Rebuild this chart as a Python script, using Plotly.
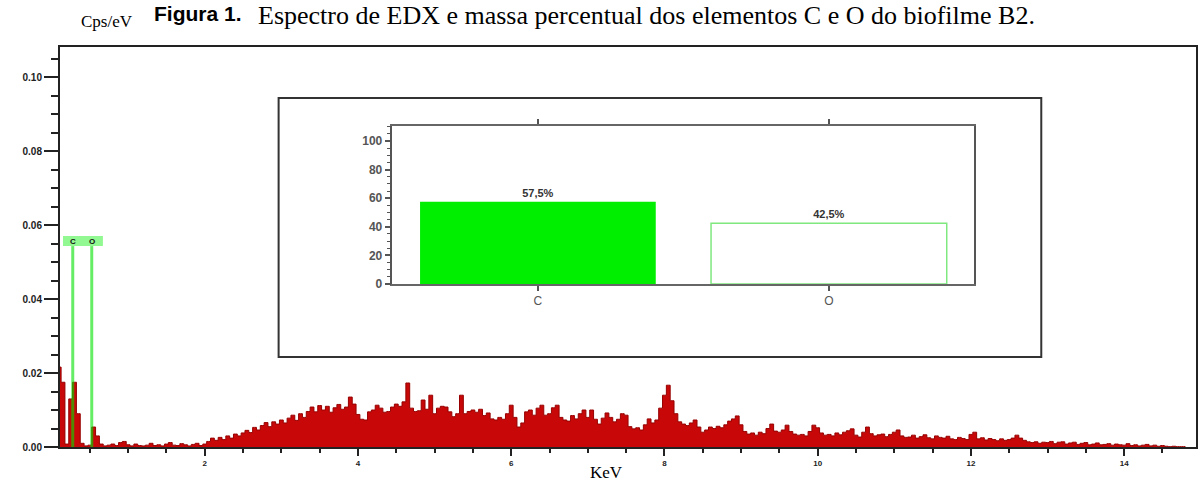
import numpy as np
import plotly.graph_objects as go

# ---------------- data ----------------
# EDX spectrum, Cps/eV in thousandths, channels every 0.05 keV starting at 0.10 keV
cps_milli = [
    # 0.10 - 0.95
    21.6, 17.5, 0.8, 13.0, 17.5, 9.0, 1.0, 0.3, 0.5, 5.4, 3.0, 0.8, 0.3, 0.5, 0.8, 0.4, 1.2, 1.5,
    # 1.00 - 1.95
    0.6, 0.3, 0.8, 0.4, 0.3, 0.5, 1.0, 0.4, 0.6, 0.3, 0.8, 1.2, 0.5, 0.4, 0.9, 0.6, 0.3, 0.7, 1.0, 0.4,
    # 2.00 - 2.95
    0.8, 1.5, 2.4, 1.8, 2.6, 2.0, 3.0, 2.4, 3.5, 3.0, 3.8, 4.5, 3.9, 5.3, 4.6, 5.8, 6.6, 5.5, 6.8, 6.2,
    # 3.00 - 3.95
    7.3, 6.5, 7.8, 8.6, 7.2, 9.0, 8.0, 9.6, 10.8, 9.5, 11.2, 10.0, 11.0, 9.4, 10.6, 11.5, 10.2, 10.8, 13.5, 11.6,
    # 4.00 - 4.95
    8.8, 7.5, 7.3, 9.5, 10.0, 11.3, 10.5, 9.4, 9.6, 10.8, 11.6, 11.0, 12.2, 17.3, 10.5, 9.6, 9.8, 12.7, 10.2, 14.0,
    # 5.00 - 5.95
    9.0, 10.5, 11.0, 10.8, 9.5, 8.2, 9.0, 14.0, 9.0, 9.6, 10.0, 9.4, 10.2, 8.5, 9.2, 7.6, 7.3, 8.0, 7.5, 9.0,
    # 6.00 - 6.95
    11.3, 8.0, 5.4, 6.5, 9.5, 10.0, 8.6, 10.5, 11.3, 8.6, 9.0, 10.6, 11.3, 8.0, 7.3, 7.0, 8.5, 7.6, 9.0, 10.0,
    # 7.00 - 7.95
    8.0, 10.0, 7.5, 6.2, 7.8, 9.2, 8.0, 6.8, 7.5, 9.0, 8.6, 5.5, 4.9, 5.2, 4.6, 6.0, 7.6, 6.5, 7.3, 10.5,
    # 8.00 - 8.95
    14.0, 16.7, 12.5, 9.0, 6.8, 6.2, 5.8, 6.5, 7.3, 5.4, 4.0, 4.6, 5.4, 5.0, 5.6, 5.2, 6.0, 7.0, 7.6, 8.4,
    # 9.00 - 9.95
    6.0, 4.2, 3.5, 3.8, 3.2, 4.0, 3.6, 5.0, 6.2, 4.3, 4.0, 4.6, 5.9, 4.2, 3.5, 3.2, 3.4, 3.0, 4.2, 5.9,
    # 10.00 - 10.95
    5.2, 3.8, 3.2, 3.4, 3.0, 3.8, 3.3, 4.0, 4.4, 4.9, 3.2, 2.7, 4.0, 5.4, 3.6, 3.0, 3.3, 3.5, 2.8, 3.4,
    # 11.00 - 11.95
    4.0, 4.6, 3.0, 2.6, 2.7, 3.2, 2.4, 2.8, 3.3, 2.5, 2.2, 3.0, 2.6, 2.4, 2.9, 2.2, 2.0, 2.6, 2.3, 2.0,
    # 12.00 - 12.95
    3.4, 4.0, 2.2, 2.5, 1.9, 2.3, 2.0, 1.7, 2.2, 1.8, 2.0, 2.4, 3.2, 2.4, 1.8, 1.4, 1.2, 1.4, 1.0, 1.3,
    # 13.00 - 13.95
    1.2, 1.5, 0.9, 1.3, 1.4, 0.8, 1.1, 1.3, 0.7, 1.0, 1.2, 0.6, 0.8, 1.1, 0.6, 0.7, 0.9, 0.5, 0.8, 0.6,
    # 14.00 - 14.80
    0.5, 0.9, 0.4, 0.6, 0.3, 0.5, 0.7, 0.3, 0.5, 0.2, 0.4, 0.2, 0.1, 0.2, 0.1, 0.1, 0.1,
]
channel_start_kev = 0.10
channel_width_kev = 0.05

elements = ["C", "O"]
element_line_kev = [0.277, 0.525]
mass_percent = [57.5, 42.5]
mass_labels = ["57,5%", "42,5%"]

y_tick_vals = [0.00, 0.02, 0.04, 0.06, 0.08, 0.10]
x_tick_vals = [2, 4, 6, 8, 10, 12, 14]
inset_tick_vals = [0, 20, 40, 60, 80, 100]

# ---------------- figure ----------------
energy = np.round(channel_start_kev + channel_width_kev * np.arange(len(cps_milli)), 3)
cps = np.array(cps_milli) / 1000.0

fig = go.Figure()

fig.add_trace(go.Scatter(
    x=energy, y=cps, mode="lines",
    line=dict(shape="hvh", color="#960000", width=1),
    fill="tozeroy", fillcolor="#c80808",
    hoverinfo="skip", showlegend=False, xaxis="x", yaxis="y",
))

fig.add_trace(go.Bar(
    x=elements, y=mass_percent, width=0.81,
    marker=dict(color=["#00ee00", "#ffffff"],
                line=dict(color=["#00ee00", "#7fe87f"], width=[0, 1.5])),
    text=mass_labels, textposition="outside", cliponaxis=False,
    textfont=dict(family="Liberation Sans", size=11, color="#333333", weight="bold"),
    showlegend=False, xaxis="x2", yaxis="y2",
))

# element marker lines and label box
label_top = 0.0570
label_bot = 0.0543
for e in element_line_kev:
    fig.add_shape(type="line", xref="x", yref="y", x0=e, x1=e, y0=0, y1=label_bot,
                  line=dict(color="rgba(0,225,0,0.6)", width=3), layer="above")
fig.add_shape(type="rect", xref="x", yref="y", x0=0.15, x1=0.671, y0=label_bot, y1=label_top,
              line=dict(width=0), fillcolor="rgba(110,245,110,0.75)", layer="above")
for name, e in zip(elements, element_line_kev):
    fig.add_annotation(x=e, y=(label_top + label_bot) / 2, xref="x", yref="y", text=name,
                       showarrow=False, font=dict(family="Liberation Sans", size=8, color="#111", weight="bold"))

# inset frame
W, H = 1138.0, 400.0
def px(xp):
    return (xp - 60) / W
def py(yp):
    return (447 - yp) / H

fig.add_shape(type="rect", xref="paper", yref="paper",
              x0=px(279), x1=px(1043), y0=py(357), y1=py(98),
              line=dict(color="#333333", width=2), fillcolor="white", layer="below")

# text
fig.add_annotation(x=px(152), y=py(0), xref="paper", yref="paper", xanchor="left", yanchor="top",
                   text="<b>Figura 1.</b>", showarrow=False,
                   font=dict(family="Liberation Sans", size=21, color="#000"))
fig.add_annotation(x=px(256), y=py(-1), xref="paper", yref="paper", xanchor="left", yanchor="top",
                   text="Espectro de EDX e massa percentual dos elementos C e O do biofilme B2.",
                   showarrow=False, font=dict(family="Liberation Serif", size=26, color="#000"))
fig.add_annotation(x=px(79), y=py(21), xref="paper", yref="paper", xanchor="left", yanchor="middle",
                   text="Cps/eV", showarrow=False,
                   font=dict(family="Liberation Serif", size=17, color="#000"))
fig.add_annotation(x=px(607), y=py(472), xref="paper", yref="paper", xanchor="center", yanchor="middle",
                   text="KeV", showarrow=False,
                   font=dict(family="Liberation Serif", size=17, color="#000"))

fig.update_layout(
    width=1204, height=481,
    margin=dict(l=60, r=6, t=47, b=34),
    paper_bgcolor="white", plot_bgcolor="white",
    bargap=0.19,
    xaxis=dict(
        range=[(60 - 51.5) / 76.75, (1198 - 51.5) / 76.75],
        tickvals=x_tick_vals, ticktext=[str(v) for v in x_tick_vals],
        ticks="outside", ticklen=7, tickwidth=2, tickcolor="#222",
        minor=dict(dtick=0.5, tick0=0, ticks="outside", ticklen=4, tickwidth=1.5, tickcolor="#222"),
        showgrid=False, zeroline=False,
        showline=True, linecolor="#222", linewidth=2, mirror=True,
        tickfont=dict(family="Liberation Sans", size=8, color="#222", weight="bold"),
    ),
    yaxis=dict(
        range=[0, (447 - 47) / 74 * 0.02],
        tickvals=y_tick_vals, tickformat=".2f",
        ticks="outside", ticklen=14, tickwidth=2, tickcolor="#222",
        minor=dict(dtick=0.005, tick0=0, ticks="outside", ticklen=7, tickwidth=1.5, tickcolor="#222"),
        showgrid=False, zeroline=False,
        showline=True, linecolor="#222", linewidth=2, mirror=True,
        tickfont=dict(family="Liberation Sans", size=10, color="#222", weight="bold"),
    ),
    xaxis2=dict(
        domain=[px(393), px(976)], anchor="y2", type="category", range=[-0.5, 1.5],
        ticks="outside", ticklen=5, tickwidth=1.5, tickcolor="#555",
        showline=True, linecolor="#666", linewidth=1.5, mirror="ticks",
        showgrid=False, zeroline=False,
        tickfont=dict(family="Liberation Sans", size=12, color="#555"),
    ),
    yaxis2=dict(
        domain=[py(284), py(126)], anchor="x2", range=[0, 110.5],
        tickvals=inset_tick_vals,
        ticks="outside", ticklen=6, tickwidth=1.5, tickcolor="#555",
        minor=dict(dtick=5, tick0=0, ticks="outside", ticklen=4, tickwidth=1, tickcolor="#555"),
        showline=True, linecolor="#555", linewidth=1.5, mirror=True,
        showgrid=False, zeroline=False,
        tickfont=dict(family="Liberation Sans", size=12, color="#555", weight="bold"),
    ),
)

fig.write_html("out.html")
